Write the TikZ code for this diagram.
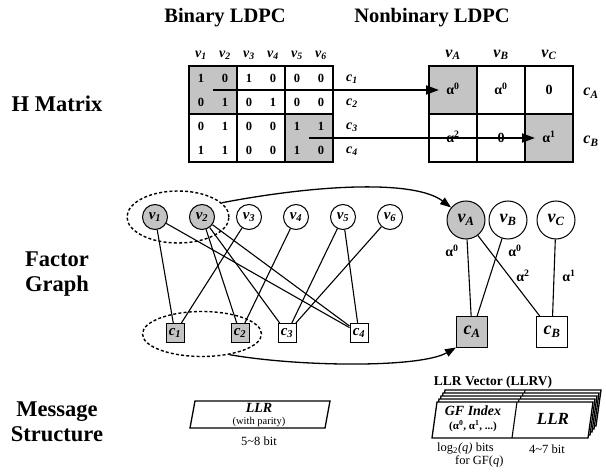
\documentclass[tikz,border=0pt]{standalone}
\usepackage{fontspec}
\setmainfont{Liberation Serif}
\usetikzlibrary{arrows.meta,shapes.geometric}
\definecolor{cellgray}{RGB}{196,196,196}
\begin{document}
\begin{tikzpicture}[x=1pt,y=-1pt,
  title/.style={font=\bfseries\fontsize{20.5}{22}\selectfont},
  rowlab/.style={font=\bfseries\fontsize{22.5}{25}\selectfont, align=center},
  grid/.style={line width=1.3pt},
  ent/.style={font=\bfseries\fontsize{12.5}{13}\selectfont, inner sep=0pt},
  alent/.style={font=\bfseries\fontsize{14}{15}\selectfont, inner sep=0pt},
  mlab/.style={font=\bfseries\itshape\fontsize{14}{15}\selectfont, inner sep=0pt},
  mlabb/.style={font=\bfseries\itshape\fontsize{16}{17}\selectfont, inner sep=0pt},
  bigarrow/.style={line width=1.9pt, -{Triangle[length=13pt,width=9pt]}},
  vnode/.style={circle, draw, line width=1pt, minimum size=25pt, inner sep=0pt, fill=white,
    font=\bfseries\itshape\fontsize{15}{16}\selectfont},
  cnode/.style={rectangle, draw, line width=1pt, minimum width=18pt, minimum height=19pt, inner sep=0pt, fill=white,
    font=\bfseries\itshape\fontsize{15}{16}\selectfont},
  vbig/.style={circle, draw, line width=1pt, minimum size=38pt, inner sep=0pt, fill=white,
    font=\bfseries\itshape\fontsize{18}{19}\selectfont},
  cbig/.style={rectangle, draw, line width=1pt, minimum width=31pt, minimum height=30pt, inner sep=0pt, fill=white,
    font=\bfseries\itshape\fontsize{18}{19}\selectfont},
  edge/.style={line width=1.1pt},
  dashring/.style={ellipse, draw, line width=1.4pt, dash pattern=on 3pt off 2.2pt, inner sep=0pt},
  curvearrow/.style={line width=1.3pt, -{Triangle[length=11pt,width=8pt]}},
  elab/.style={font=\bfseries\fontsize{14}{15}\selectfont, inner sep=0pt},
  msg/.style={line width=1.3pt, fill=white},
  small/.style={font=\fontsize{12.5}{13}\selectfont, inner sep=0pt}
]
\useasboundingbox (0,0) rectangle (606,476);

% titles
\node[title] (t1) at (225,18) {Binary LDPC};
\node[title] (t2) at (432,18) {Nonbinary LDPC};
\node[rowlab] (l1) at (57,104) {H Matrix};
\node[rowlab] (l2) at (57,274) {Factor\\Graph};
\node[rowlab] (l3) at (57,422) {Message\\Structure};

% binary matrix
\fill[cellgray] (189,66) rectangle (237,114);
\fill[cellgray] (285,114) rectangle (333,162);
\draw[grid] (189,66) rectangle (333,162);
\draw[grid] (237,66) -- (237,162);
\draw[grid] (285,66) -- (285,162);
\draw[grid] (189,114) -- (333,114);
\foreach \r/\row in {1/{1,0,1,0,0,0},2/{0,1,0,1,0,0},3/{0,1,0,0,1,1},4/{1,1,0,0,1,0}}{
  \foreach \e [count=\c] in \row {
    \node[ent] (b\r\c) at (177+24*\c, 54+24*\r) {\e};
  }
}
\foreach \c in {1,...,6} \node[mlab] (bv\c) at (177+24*\c,55) {v\textsubscript{\c}};
\foreach \r in {1,...,4} \node[mlab] (bc\r) at (352,55+24*\r) {c\textsubscript{\r}};

% nonbinary matrix
\fill[cellgray] (429,66) rectangle (477,114);
\fill[cellgray] (525,114) rectangle (573,162);
\draw[grid] (429,66) rectangle (573,162);
\draw[grid] (477,66) -- (477,162);
\draw[grid] (525,66) -- (525,162);
\draw[grid] (429,114) -- (573,114);
\node[alent] (nAA) at (453,89) {α\textsuperscript{0}};
\node[alent] (nAB) at (501,89) {α\textsuperscript{0}};
\node[alent] (nAC) at (549,90) {0};
\node[alent] (nBA) at (453,137) {α\textsuperscript{2}};
\node[alent] (nBB) at (501,138) {0};
\node[alent] (nBC) at (549,137) {α\textsuperscript{1}};
\node[mlabb] (nvA) at (453,55) {v\textsubscript{A}};
\node[mlabb] (nvB) at (501,55) {v\textsubscript{B}};
\node[mlabb] (nvC) at (549,55) {v\textsubscript{C}};
\node[mlabb] (ncA) at (591,93) {c\textsubscript{A}};
\node[mlabb] (ncB) at (591,141) {c\textsubscript{B}};

% matrix arrows
\coordinate (a1s) at (213,90);
\coordinate (a1e) at (439,90);
\coordinate (a2s) at (309,138);
\coordinate (a2e) at (535,138);
\draw[bigarrow] (a1s) -- (a1e);
\draw[bigarrow] (a2s) -- (a2e);

% binary factor graph
\node[dashring, minimum width=102pt, minimum height=52pt] (ev) at (178,217) {};
\node[dashring, minimum width=119pt, minimum height=45pt] (ec) at (202,334) {};
\node[vnode, fill=cellgray] (v1) at (155,217) {v\textsubscript{1}};
\node[vnode, fill=cellgray] (v2) at (202,217) {v\textsubscript{2}};
\node[vnode] (v3) at (249,217) {v\textsubscript{3}};
\node[vnode] (v4) at (296,217) {v\textsubscript{4}};
\node[vnode] (v5) at (343,217) {v\textsubscript{5}};
\node[vnode] (v6) at (390,217) {v\textsubscript{6}};
\node[cnode, fill=cellgray] (c1) at (175,333) {c\textsubscript{1}};
\node[cnode, fill=cellgray] (c2) at (240,333) {c\textsubscript{2}};
\node[cnode] (c3) at (287,333) {c\textsubscript{3}};
\node[cnode] (c4) at (359,333) {c\textsubscript{4}};
\foreach \a/\b in {v1/c1,v3/c1,v2/c2,v4/c2,v2/c3,v5/c3,v6/c3,v1/c4,v2/c4,v5/c4}
  \draw[edge] (\a) -- (\b);

% nonbinary factor graph
\node[vbig, fill=cellgray] (vA) at (466,220) {v\textsubscript{A}};
\node[vbig] (vB) at (508,220) {v\textsubscript{B}};
\node[vbig] (vC) at (556,220) {v\textsubscript{C}};
\node[cbig, fill=cellgray] (cA) at (472,332) {c\textsubscript{A}};
\node[cbig] (cB) at (552,332) {c\textsubscript{B}};
\draw[edge] (vA) -- (cA);
\draw[edge] (vB) -- (cA);
\draw[edge] (vA) -- (cB);
\draw[edge] (vC) -- (cB);
\node[elab] (e1) at (452,251) {α\textsuperscript{0}};
\node[elab] (e2) at (515,251) {α\textsuperscript{0}};
\node[elab] (e3) at (523,276) {α\textsuperscript{2}};
\node[elab] (e4) at (569,276) {α\textsuperscript{1}};

% curved arrows
\draw[curvearrow] (ev.18) .. controls (320,184) and (415,180) .. (vA.140);
\draw[curvearrow] (ec.-37) .. controls (300,367) and (420,368) .. (cA.south west);

% message structure: binary
\coordinate (p1) at (195,401);
\coordinate (p2) at (330,401);
\coordinate (p3) at (325,428);
\coordinate (p4) at (190,428);
\draw[msg] (p1) -- (p2) -- (p3) -- (p4) -- cycle;
\node[font=\bfseries\itshape\fontsize{14}{15}\selectfont, inner sep=0pt] (bl) at (259,408) {LLR};
\node[font=\fontsize{10.5}{11}\selectfont, inner sep=0pt] (bp) at (259,421.5) {(with parity)};
\node[small] (bb) at (259,441) {5\textasciitilde 8 bit};

% message structure: nonbinary stack
\foreach \k in {4,3,2,1}{
  \begin{scope}[shift={(2*\k,-3*\k)}]
    \draw[msg] (437,402) -- (593,402) -- (588,438) -- (432,438) -- cycle;
    \draw[line width=1.1pt] (517,402) -- (512,438);
  \end{scope}
}
\coordinate (q1) at (437,402);
\coordinate (q2) at (593,402);
\coordinate (q3) at (588,438);
\coordinate (q4) at (432,438);
\draw[msg] (q1) -- (q2) -- (q3) -- (q4) -- cycle;
\coordinate (d1) at (517,402);
\coordinate (d2) at (512,438);
\draw[line width=1.1pt] (d1) -- (d2);
\node[font=\bfseries\fontsize{13.5}{14}\selectfont, inner sep=0pt] (lv) at (493,382) {LLR Vector (LLRV)};
\node[font=\bfseries\itshape\fontsize{14}{15}\selectfont, inner sep=0pt] (gf) at (473,411) {GF Index};
\node[font=\bfseries\fontsize{11}{12}\selectfont, inner sep=0pt] (gfa) at (473,426) {(α\textsuperscript{0}, α\textsuperscript{1}, ...)};
\node[font=\bfseries\itshape\fontsize{17}{18}\selectfont, inner sep=0pt] (nl) at (553,419) {LLR};
\node[small, anchor=west] (lg) at (437,449) {log\textsubscript{2}\textit{(q)} bits};
\node[small, anchor=west] (fg) at (455,461) {for GF(\textit{q})};
\node[small] (nb) at (547,449) {4\textasciitilde 7 bit};
\end{tikzpicture}
\end{document}
